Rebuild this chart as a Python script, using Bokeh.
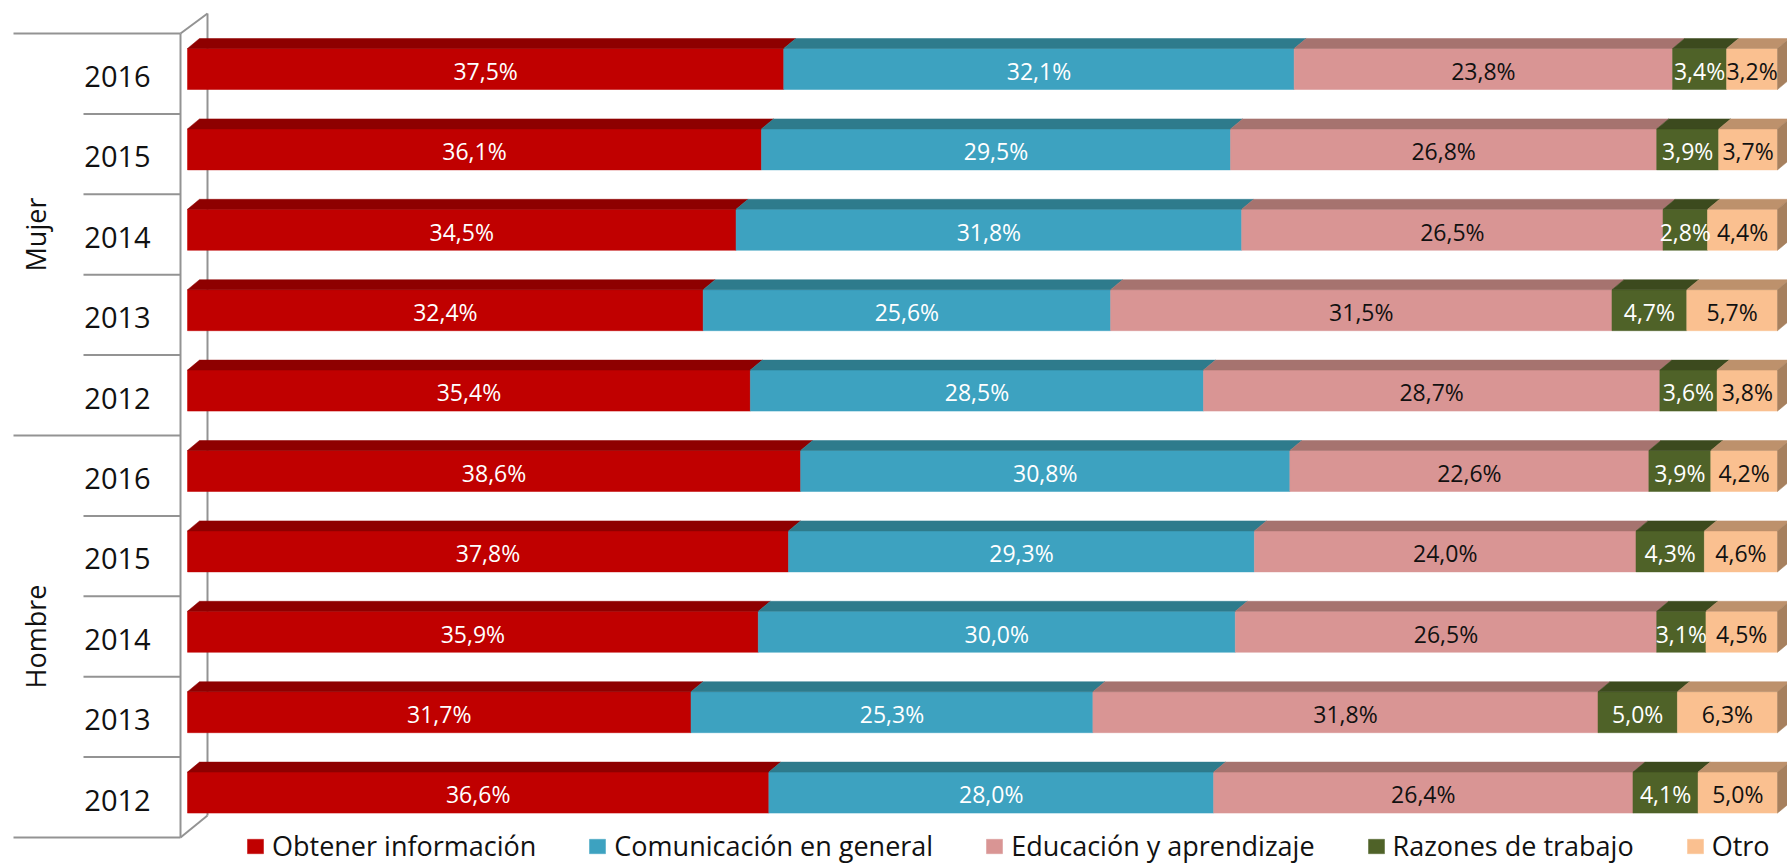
import numpy as np
from bokeh.plotting import figure
from bokeh.models import ColumnDataSource, Range1d, Legend, LegendItem
from bokeh.core.properties import value
from bokeh.embed import file_html
from bokeh.resources import INLINE

# ---------------- data (rows from top to bottom) ----------------
groups = ["Mujer", "Hombre"]
years = ["2016", "2015", "2014", "2013", "2012", "2016", "2015", "2014", "2013", "2012"]
series = ["Obtener información", "Comunicación en general", "Educación y aprendizaje",
          "Razones de trabajo", "Otro"]
obtener = [37.5, 36.1, 34.5, 32.4, 35.4, 38.6, 37.8, 35.9, 31.7, 36.6]
comunicacion = [32.1, 29.5, 31.8, 25.6, 28.5, 30.8, 29.3, 30.0, 25.3, 28.0]
educacion = [23.8, 26.8, 26.5, 31.5, 28.7, 22.6, 24.0, 26.5, 31.8, 26.4]
razones = [3.4, 3.9, 2.8, 4.7, 3.6, 3.9, 4.3, 3.1, 5.0, 4.1]
otro = [3.2, 3.7, 4.4, 5.7, 3.8, 4.2, 4.6, 4.5, 6.3, 5.0]

# ---------------- styles ----------------
front_colors = ["#C00000", "#3DA2C0", "#D99594", "#4F6228", "#FAC090"]
top_colors = ["#8E0000", "#2E7B8C", "#A6736F", "#3C4A1E", "#BD916C"]
side_color = "#A6805E"
label_colors = ["#FFFFFF", "#FFFFFF", "#111111", "#FFFFFF", "#111111"]
axis_color = "#939393"
FONT_NAME = "Open Sans"
FONT = value(FONT_NAME)

W, H = 1787, 864
X0 = 187.0      # canvas x of 0 %
PXP = 15.9      # pixels per percent
Y0 = 33.0       # canvas y of top of category axis
ROW = 80.4      # row pitch (px)
DX = 12.0 / PXP  # depth of 3D bars (x, in %)
DY = 10.0 / ROW  # depth of 3D bars (y, in rows)
F_TOP = 15.0 / ROW
F_BOT = 56.0 / ROW

x_range = Range1d(-X0 / PXP, (W - X0) / PXP)
y_range = Range1d(start=(H - Y0) / ROW, end=-Y0 / ROW)  # rows counted from top

p = figure(width=W, height=H, x_range=x_range, y_range=y_range,
           output_backend="svg", toolbar_location=None,
           x_axis_type=None, y_axis_type=None, min_border=0,
           outline_line_color=None, background_fill_color="white")
p.grid.visible = False

values = [obtener, comunicacion, educacion, razones, otro]
keys = ["s0", "s1", "s2", "s3", "s4"]
vals = np.array(values, dtype=float)
norm = vals / vals.sum(axis=0) * 100.0
cum = np.cumsum(norm, axis=0)
left = cum - norm

n = len(years)
rows = np.arange(n)
face_top = rows + F_TOP
face_bot = rows + F_BOT

# ---------------- axis frame (3D wall) ----------------
x_axis = -7.0 / PXP
x_back = 20.0 / PXP
p.segment(x0=[x_axis, x_back, x_axis, x_axis], y0=[0, -20.0 / ROW, 0, n],
          x1=[x_axis, x_back, x_back, x_back], y1=[n, n - 22.0 / ROW, -20.0 / ROW, n - 22.0 / ROW],
          line_color=axis_color, line_width=2)

# separators between years and between groups
sep_y = [float(b) for b in range(n + 1)]
sep_x0 = [(-174.0 if b in (0, 5, 10) else -104.0) / PXP for b in range(n + 1)]
p.segment(x0=sep_x0, y0=sep_y, x1=[x_axis] * len(sep_y), y1=sep_y,
          line_color=axis_color, line_width=2)

# ---------------- bars ----------------
src = ColumnDataSource({**{k: list(norm[j]) for j, k in enumerate(keys)},
                        "y": list(rows + (F_TOP + F_BOT) / 2)})
renderers = p.hbar_stack(keys, y="y", height=F_BOT - F_TOP, color=front_colors,
                         line_color=front_colors, line_width=0.5, source=src)

# top faces
pxs, pys, pcol = [], [], []
for j in range(len(keys)):
    for i in range(n):
        l, r, ft = left[j, i], cum[j, i], face_top[i]
        pxs.append([l, r, r + DX, l + DX])
        pys.append([ft, ft, ft - DY, ft - DY])
        pcol.append(top_colors[j])
# side face of last segment
for i in range(n):
    r, ft, fb = cum[-1, i], face_top[i], face_bot[i]
    pxs.append([r, r + DX, r + DX, r])
    pys.append([ft, ft - DY, fb - DY, fb])
    pcol.append(side_color)
p.patches(xs=pxs, ys=pys, fill_color=pcol, line_color=pcol, line_width=0.5)

# data labels
lx, ly, lt, lc = [], [], [], []
for j in range(len(keys)):
    for i in range(n):
        lx.append((left[j, i] + cum[j, i]) / 2)
        ly.append(rows[i] + 0.465)
        lt.append(f"{vals[j, i]:.1f}%".replace(".", ","))
        lc.append(label_colors[j])
p.text(x=lx, y=ly, text=lt, text_color=lc, text_align="center", text_baseline="middle",
       text_font=FONT, text_font_size="23px")

# category labels
p.text(x=[-70.0 / PXP] * n, y=list(rows + 0.535), text=years, text_color="#111111",
       text_align="center", text_baseline="middle", text_font=FONT, text_font_size="29px")
p.text(x=[-152.0 / PXP] * 2, y=[2.5, 7.5], text=groups, text_color="#111111",
       angle=np.pi / 2, text_align="center", text_baseline="middle",
       text_font=FONT, text_font_size="27px")

# legend
legend = Legend(items=[LegendItem(label=s, renderers=[r]) for s, r in zip(series, renderers)],
                orientation="horizontal", location=(245, 0),
                glyph_width=20, glyph_height=18, label_standoff=7, spacing=51,
                padding=0, margin=0, border_line_color=None, background_fill_alpha=0,
                label_text_font=FONT_NAME, label_text_font_size="27px",
                label_text_color="#111111")
p.add_layout(legend)

open("out.html", "w").write(file_html(p, INLINE))
